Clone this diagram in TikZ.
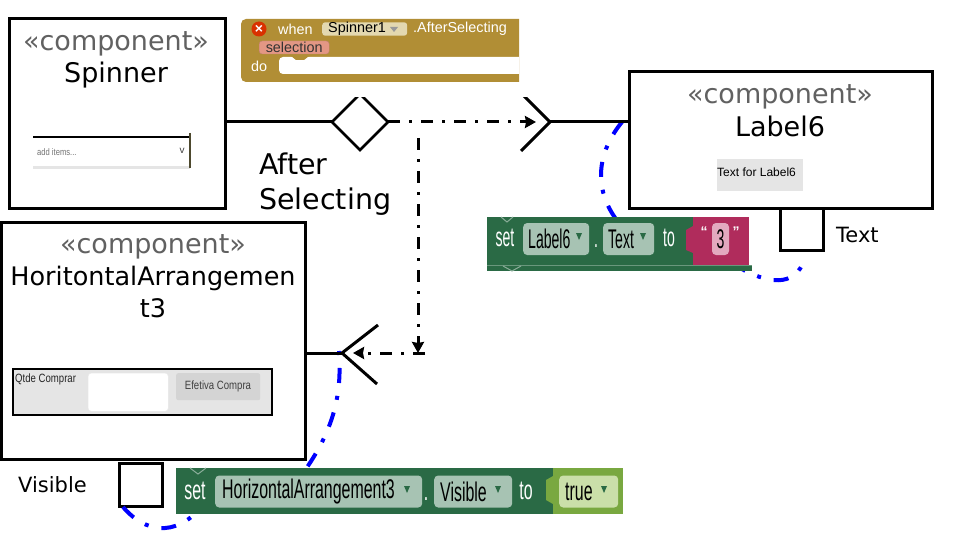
\documentclass[tikz,border=0pt]{standalone}
\usepackage{fontspec}
\setmainfont{DejaVu Sans}
\newfontfamily\uifont{Liberation Sans}
\newfontfamily\blockfont[FakeStretch=0.59]{Liberation Sans}
\newfontfamily\tightfont[FakeStretch=0.52]{Liberation Sans}
\newfontfamily\narrowfont[FakeStretch=0.8]{Liberation Sans}
\usetikzlibrary{arrows.meta,shapes.geometric}
\definecolor{blockgreen}{HTML}{2A6A45}
\definecolor{chipgreen}{HTML}{A7C3B3}
\definecolor{blockpink}{HTML}{B02C5C}
\definecolor{chippink}{HTML}{E3A9BF}
\definecolor{blocklime}{HTML}{79A840}
\definecolor{chiplime}{HTML}{CADFA9}
\definecolor{blockgold}{HTML}{B18E35}
\definecolor{chipgold}{HTML}{E3D8B0}
\definecolor{chipred}{HTML}{E39784}
\tikzset{
  compbox/.style={draw,line width=3pt,fill=white,anchor=north west,inner sep=0pt,outer sep=0pt},
  stereo/.style={text=black!62,font=\fontsize{27}{32}\selectfont},
  compname/.style={font=\fontsize{27}{32}\selectfont,align=center},
  portlabel/.style={font=\fontsize{21}{25}\selectfont,anchor=west,inner sep=0pt},
  assoc/.style={line width=3pt},
  flow/.style={line width=3pt,dash pattern=on 12pt off 9pt on 3pt off 9pt,-{Stealth[length=11pt,width=12pt,inset=1pt]}},
  bind/.style={line width=4pt,blue,dash pattern=on 15pt off 13pt on 4pt off 13pt},
  chip/.style={rounded corners=4pt,inner xsep=5pt,inner ysep=0pt,text=black,anchor=west,minimum height=32pt,text width=#1-10pt,align=left},
  wtext/.style={text=white,inner sep=0pt},
  goldtext/.style={text=white,inner sep=0pt,anchor=west,font=\uifont\fontsize{14.4}{14}\selectfont},
  notchline/.style={line width=1pt,blockgreen!55!white}
}
\newcommand{\dropmark}[2]{\fill[blockgreen] (#1-3,#2-4) -- (#1+3,#2-4) -- (#1,#2+3) -- cycle;}
\begin{document}
\begin{tikzpicture}[x=1pt,y=-1pt]
  \useasboundingbox (0,0) rectangle (960,540);
  \fill[white] (0,0) rectangle (960,540);

  % Blue bindings go under the blocks
  \node[compbox,minimum width=43pt,minimum height=42pt] (textport) at (780,208) {};
  \node[compbox,minimum width=43pt,minimum height=43pt] (visport) at (119,463) {};
  \coordinate (labelfork) at (622,122);
  \coordinate (labelhide) at (625,230);
  \coordinate (texthide) at (740,268);
  \coordinate (textend) at (805,258);
  \coordinate (harrfork) at (339,351);
  \coordinate (harrhide) at (290,490);
  \coordinate (vishide) at (230,495);
  \coordinate (visstart) at (123,507);
  \draw[bind] (labelfork) .. controls (595,155) and (592,195) .. (labelhide);
  \draw[bind,dash phase=9pt] (texthide) .. controls (765,282) and (795,290) .. (textend);
  \draw[bind,dash phase=28pt] (harrfork) .. controls (342,395) and (335,435) .. (harrhide);
  \draw[bind] (visstart) .. controls (140,527) and (168,540) .. (197,512) -- (vishide);

  % Spinner
  \node[compbox,minimum width=216pt,minimum height=189pt] (spinner) at (9,19) {};
  \node[stereo] (spinnerst) at (116,44) {«component»};
  \node[compname] (spinnername) at (116,75) {Spinner};
  \fill[black!10] (33,166) rectangle (190,169);
  \draw[line width=2.5pt] (33,137) -- (190,137);
  \draw[line width=2pt,black!60!olive] (190,133) -- (190,168);
  \node[text=black!55,inner sep=0pt,anchor=west,font=\narrowfont\fontsize{9.5}{10}\selectfont] (spinneritems) at (37,152) {add items...};
  \node[text=black!75,inner sep=0pt,font=\uifont\fontsize{10}{10}\selectfont] (spinnerv) at (182,151) {v};

  % Label6
  \node[compbox,minimum width=303pt,minimum height=136pt] (label) at (629,72) {};
  \node[stereo] (labelst) at (780,97) {«component»};
  \node[compname] (labelname) at (780,126) {Label6};
  \node[fill=black!10,minimum width=86pt,minimum height=32pt,inner sep=0pt] (labelwidget) at (760,175) {};
  \node[inner sep=0pt,anchor=west,font=\uifont\fontsize{12}{12}\selectfont] (labeltext) at (717,172) {Text for Label6};
  \node[portlabel] (textlabel) at (836,235) {Text};

  % HorizontalArrangement3
  \node[compbox,minimum width=304pt,minimum height=237pt] (harr) at (1,222) {};
  \node[stereo] (harrst) at (153,247) {«component»};
  \node[compname,font=\fontsize{25.5}{32}\selectfont] (harrname) at (153,292) {HoritontalArrangemen\\t3};
  \node[draw,line width=2.5pt,fill=black!10,anchor=north west,minimum width=259pt,minimum height=46pt,inner sep=0pt,outer sep=0pt] (harrwidget) at (13,369) {};
  \node[fill=white,draw=black!8,rounded corners=3pt,anchor=north west,minimum width=80pt,minimum height=38pt,inner sep=0pt] (harrfield) at (88,373) {};
  \node[fill=black!17,rounded corners=2pt,anchor=north west,minimum width=84pt,minimum height=27pt,inner sep=0pt] (harrbutton) at (176,373) {};
  \node[inner sep=0pt,anchor=west,text=black!85,font=\narrowfont\fontsize{12}{12}\selectfont] (harrqtde) at (15,379) {Qtde Comprar};
  \node[text=black!75,inner sep=0pt,font=\narrowfont\fontsize{12}{12}\selectfont] (harrefet) at (218,386) {Efetiva Compra};
  \node[portlabel] (vislabel) at (18,485) {Visible};

  % Event block
  \fill[blockgold] (519,19) [rounded corners=5pt] -- (241,19) -- (241,82) [sharp corners] -- (519,82) -- cycle;
  \fill[white] (519,57) [rounded corners=4pt] -- (279,57) -- (279,74) [sharp corners] -- (519,74) -- cycle;
  \fill[blockgold] (291,56) -- (309,56) -- (304,60) -- (296,60) -- cycle;
  \node[circle,fill=red!55!orange!85!black,inner sep=0pt,minimum size=15pt,text=white,font=\uifont\bfseries\fontsize{14}{14}\selectfont] (whenicon) at (259,29) {×};
  \node[goldtext] (whenword) at (278,29) {when};
  \node[fill=chipgold,rounded corners=3pt,inner xsep=6pt,inner ysep=0pt,anchor=west,minimum height=12pt,text width=73pt,text=black,font=\uifont\fontsize{14.4}{14}\selectfont] (whenchip) at (322,29) {Spinner1};
  \fill[black!40] (390,27) -- (398,27) -- (394,32) -- cycle;
  \node[goldtext] (whenevent) at (413,29) {.AfterSelecting};
  \node[fill=chipred,draw=chipred!85!black,rounded corners=3pt,inner sep=0pt,anchor=west,minimum width=70pt,minimum height=13pt,text=black!80,font=\uifont\fontsize{14.4}{14}\selectfont] (whenarg) at (259,47.5) {selection};
  \node[goldtext] (whendo) at (251,66) {do};

  % Association Spinner to Label6
  \node[diamond,draw,line width=2.6pt,fill=white,minimum width=56pt,minimum height=56pt,inner sep=0pt,outer sep=0pt] (aggr) at (360,122) {};
  \coordinate (forka) at (550,122);
  \coordinate (forkaup) at (521,93);
  \coordinate (forkadn) at (521,151);
  \coordinate (forkb) at (342,353);
  \coordinate (forkbup) at (378,325);
  \coordinate (forkbdn) at (377,384);
  \draw[assoc] (forkaup) -- (forka) -- (forkadn);
  \fill[white] (236,83) rectangle (560,97);
  \draw[assoc] (spinner.east |- aggr) -- (aggr.west);
  \draw[assoc] (forka) -- (label.west |- forka);
  \draw[assoc] (harr.east |- forkb) -- (forkb);
  \draw[assoc] (forkbup) -- (forkb) -- (forkbdn);
  \coordinate (arrowa) at (536,122);
  \draw[flow] (aggr.east) -- (arrowa);
  \coordinate (dropstart) at (418,138);
  \coordinate (dropend) at (418,353);
  \coordinate (backstart) at (425,353);
  \coordinate (arrowb) at (353,353);
  \draw[flow] (dropstart) -- (dropend);
  \draw[flow] (backstart) -- (arrowb);
  \node[font=\fontsize{28.5}{35}\selectfont,align=left,anchor=north west,inner sep=0pt] (aftersel) at (259,153) {After\\Selecting};

  % Set Label6 block
  \fill[blockgreen] (487,217) rectangle (693,265);
  \fill[blockgreen] (487,265) rectangle (752,271);
  \draw[line width=1pt,blockgreen!70!white] (487,265.5) -- (752,265.5);
  \draw[notchline] (501,217) -- (507,222) -- (513,217);
  \draw[notchline] (503,266) -- (512,271) -- (521,266);
  \fill[blockpink] (693,217) rectangle (749,265);
  \fill[blockpink] (693,226) -- (686,230) -- (686,250) -- (693,253) -- cycle;
  \node[wtext,font=\tightfont\fontsize{27}{27}\selectfont] (lset) at (505,238) {set};
  \node[fill=chipgreen,chip=66pt,font=\tightfont\fontsize{27}{27}\selectfont] (lchip) at (523,239) {Label6};
  \dropmark{579}{237}
  \node[wtext,font=\tightfont\fontsize{27}{27}\selectfont] (ldot) at (596,246) {.};
  \node[fill=chipgreen,chip=51pt,font=\tightfont\fontsize{27}{27}\selectfont] (lprop) at (603,239) {Text};
  \dropmark{643}{237}
  \node[wtext,font=\tightfont\fontsize{27}{27}\selectfont] (lto) at (669,238) {to};
  \node[fill=chippink,rounded corners=4pt,inner sep=0pt,minimum width=17pt,minimum height=32pt,font=\tightfont\fontsize{27}{27}\selectfont] (lval) at (720.5,239) {3};
  \node[wtext,font=\uifont\bfseries\fontsize{14}{14}\selectfont] (lqa) at (704,232) {“};
  \node[wtext,font=\uifont\bfseries\fontsize{14}{14}\selectfont] (lqb) at (736,232) {”};

  % Set Visible block
  \fill[blockgreen] (176,468) rectangle (553,514);
  \draw[notchline] (190,468) -- (198,474) -- (206,468);
  \fill[blocklime] (553,468) rectangle (623,514);
  \fill[blocklime] (553,476) -- (546,480) -- (546,500) -- (553,504) -- cycle;
  \node[wtext,font=\blockfont\fontsize{27}{27}\selectfont] (vset) at (195,491) {set};
  \node[fill=chipgreen,chip=203pt,inner xsep=7pt,font=\blockfont\fontsize{27}{27}\selectfont] (vchip) at (215,491.5) {HorizontalArrangement3};
  \dropmark{407}{490}
  \node[wtext,font=\blockfont\fontsize{27}{27}\selectfont] (vdot) at (426,499) {.};
  \node[fill=chipgreen,chip=76pt,inner xsep=6pt,font=\blockfont\fontsize{27}{27}\selectfont] (vprop) at (434,491.5) {Visible};
  \dropmark{498}{490}
  \node[wtext,font=\blockfont\fontsize{27}{27}\selectfont] (vto) at (526,491) {to};
  \node[fill=chiplime,chip=57pt,inner xsep=6pt,font=\blockfont\fontsize{27}{27}\selectfont] (vval) at (559,491.5) {true};
  \dropmark{604}{490}
\end{tikzpicture}
\end{document}
